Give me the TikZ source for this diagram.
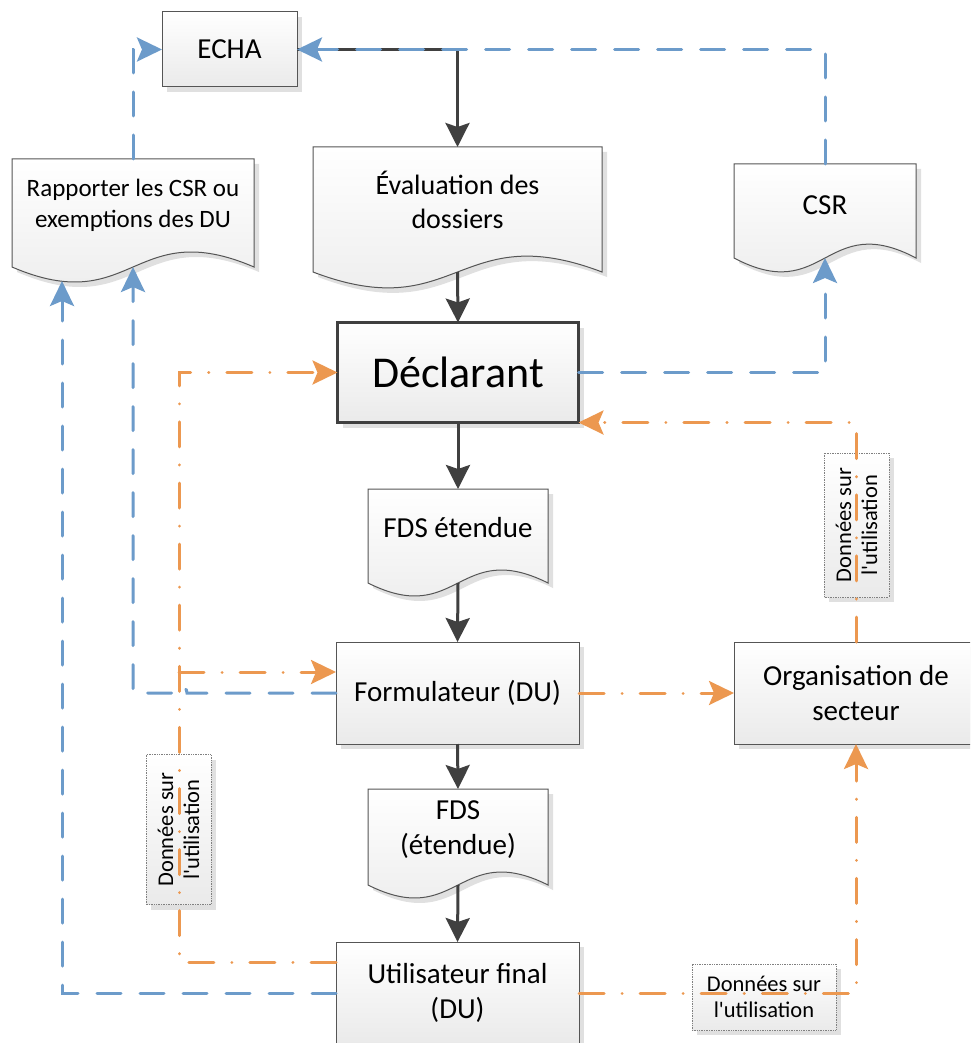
\documentclass[tikz,border=0pt]{standalone}
\usepackage{fontspec}
\setmainfont{Carlito}
\usetikzlibrary{arrows.meta,calc}
\definecolor{cblue}{RGB}{108,155,202}
\definecolor{corange}{RGB}{236,152,80}
\definecolor{cdark}{RGB}{64,64,64}
\definecolor{cborder}{RGB}{85,85,85}
\definecolor{cshadow}{RGB}{224,224,224}
\definecolor{cfillb}{RGB}{234,234,234}
\newcommand{\docpath}[2]{(#1.north west) -- (#1.north east) -- (#1.south east) .. controls ($(#1.south)+(0,-#2)$) and ($(#1.south)+(0,#2)$) .. (#1.south west) -- cycle}
\tikzset{
  shd/.style={preaction={fill=cshadow, transform canvas={shift={(5pt,-5pt)}}}},
  boxnode/.style={shd, draw=cborder, line width=1pt, top color=white, bottom color=cfillb, outer sep=0pt, inner sep=0pt, align=center, font=\fontsize{29}{35}\selectfont},
  docnode/.style={outer sep=0pt, inner sep=0pt},
  docfill/.style={draw=cborder, line width=1pt, top color=white, bottom color=cfillb},
  docshadow/.style={fill=cshadow, transform canvas={shift={(5pt,-5pt)}}},
  txt/.style={align=center, font=\fontsize{29}{35}\selectfont, inner sep=0pt},
  labnode/.style={shd, draw=gray, densely dotted, line width=0.7pt, top color=white, bottom color=cfillb, align=center, inner sep=0pt, outer sep=0pt, font=\fontsize{22.5}{26}\selectfont},
  darr/.style={draw=cdark, line width=3pt, -{Stealth[length=24pt,width=24pt,inset=4pt]}},
  barr/.style={draw=cblue, line width=3pt, line cap=round, dash pattern=on 24pt off 19pt, -{Stealth[length=25pt,width=24pt,inset=5pt]}},
  oarr/.style={draw=corange, line width=3pt, line cap=round, dash pattern=on 25pt off 18pt on 0.1pt off 18pt, -{Stealth[length=25pt,width=24pt,inset=5pt]}},
}
\begin{document}
\begin{tikzpicture}[x=1pt,y=-1pt]
\clip (0,0) rectangle (970,1043);
\fill[white] (0,0) rectangle (970,1043);

% rectangular boxes
\node[boxnode, minimum width=135pt, minimum height=75pt] (echa) at (229.5,49.5) {ECHA};
\node[boxnode, draw=cdark, line width=3pt, minimum width=241pt, minimum height=100pt, font=\fontsize{44}{50}\selectfont] (decl) at (458,372.5) {Déclarant};
\node[boxnode, minimum width=243pt, minimum height=102pt] (formu) at (457.5,693) {Formulateur (DU)};
\node[boxnode, minimum width=243pt, minimum height=102pt] (util) at (457.5,993) {Utilisateur final\\(DU)};
\node[boxnode, minimum width=244pt, minimum height=102pt] (org) at (856,693) {Organisation de\\secteur};

% document shapes
\node[docnode, minimum width=242pt, minimum height=108pt] (rap) at (133,213) {};
\node[docnode, minimum width=289pt, minimum height=125pt] (eval) at (457.5,209.5) {};
\node[docnode, minimum width=182pt, minimum height=94pt] (csr) at (825,211) {};
\node[docnode, minimum width=180pt, minimum height=94pt] (fdsa) at (458,536) {};
\node[docnode, minimum width=180pt, minimum height=96pt] (fdsb) at (458,837) {};

\fill[docshadow] \docpath{rap}{52};
\fill[docshadow] \docpath{eval}{55};
\fill[docshadow] \docpath{csr}{48};
\fill[docshadow] \docpath{fdsa}{45};
\fill[docshadow] \docpath{fdsb}{45};
\path[docfill] \docpath{rap}{52};
\path[docfill] \docpath{eval}{55};
\path[docfill] \docpath{csr}{48};
\path[docfill] \docpath{fdsa}{45};
\path[docfill] \docpath{fdsb}{45};

\node[txt, font=\fontsize{25}{31}\selectfont] (rapT) at (133,205) {Rapporter les CSR ou\\exemptions des DU};
\node[txt, font=\fontsize{28}{34}\selectfont] (evalT) at (457.5,200) {Évaluation des\\dossiers};
\node[txt] (csrT) at (825,205) {CSR};
\node[txt] (fdsaT) at (458,528) {FDS étendue};
\node[txt] (fdsbT) at (458,830) {FDS\\(étendue)};

% labels
\node[labnode, rotate=90, minimum width=150pt, minimum height=65pt] (lab1) at (178.5,829.5) {Données sur\\l\textquotesingle utilisation};
\node[labnode, rotate=90, minimum width=144pt, minimum height=65pt] (lab2) at (856.5,525) {Données sur\\l\textquotesingle utilisation};
\node[labnode, minimum width=144pt, minimum height=66pt] (lab3) at (764,997) {Données sur\\l\textquotesingle utilisation};

% helper coordinates
\coordinate (ov) at (179,0);
\coordinate (uo) at ($(util.west)+(0,-31)$);
\coordinate (fo) at ($(formu.west)+(0,-21)$);
\coordinate (rapdip) at (62,281);
\coordinate (hopR) at (187,693);
\coordinate (hopL) at (173,693);

% dark flow
\draw[darr] (echa.east) -| (eval.north);
\draw[darr] (eval.south) -- (decl.north);
\draw[darr] (decl.south) -- (fdsa.north);
\draw[darr] (fdsa.south) -- (formu.north);
\draw[darr] (formu.south) -- (fdsb.north);
\draw[darr] (fdsb.south) -- (util.north);

% orange flows
\draw[oarr] (uo) -- (uo -| ov) -- (ov |- decl.west) -- (decl.west);
\draw[oarr] (ov |- fo) -- (fo);
\draw[oarr] (formu.east) -- (org.west);
\draw[oarr] (org.north) |- (decl.south east);
\draw[oarr] (util.east) -| (org.south);

% blue flows
\draw[barr] (csr.north) |- (echa.east);
\draw[barr] (rap.north) |- (echa.west);
\draw[barr] (decl.east) -| (csr.south);
\draw[barr] (formu.west) -- (hopR) .. controls ($(hopR)+(0,-9)$) and ($(hopL)+(0,-9)$) .. (hopL) -- (rap.south |- formu.west) -- (rap.south);
\draw[barr] (util.west) -- (rapdip |- util.west) -- (rapdip);
\end{tikzpicture}
\end{document}
